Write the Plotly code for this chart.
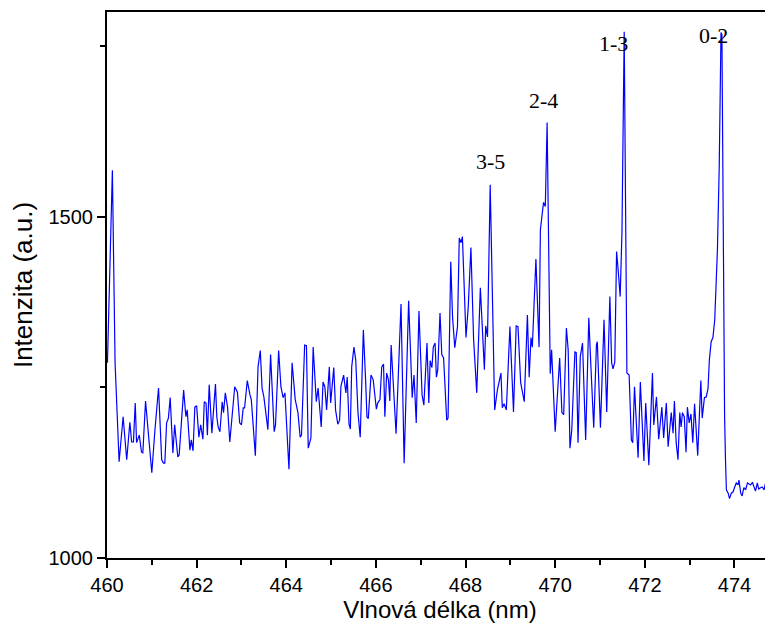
import plotly.graph_objects as go

wavelength = [
    460.01, 460.12, 460.18, 460.25, 460.27, 460.36, 460.44, 460.51, 460.55, 460.59,
    460.63, 460.66, 460.72, 460.77, 460.80, 460.86, 460.92, 461.00, 461.07, 461.15,
    461.22, 461.26, 461.29, 461.33, 461.37, 461.41, 461.47, 461.51, 461.58, 461.61,
    461.71, 461.76, 461.79, 461.85, 461.88, 461.92, 461.96, 462.00, 462.05, 462.09,
    462.14, 462.17, 462.21, 462.24, 462.28, 462.34, 462.42, 462.45,
    462.48, 462.52, 462.57, 462.60, 462.64, 462.69, 462.74, 462.85, 462.91, 462.96,
    463.00, 463.04, 463.07, 463.13, 463.19, 463.22, 463.31, 463.37, 463.42, 463.46,
    463.50, 463.59, 463.65, 463.73, 463.76, 463.83, 463.88, 463.93, 463.97, 464.06,
    464.13, 464.20, 464.26, 464.31, 464.34, 464.41, 464.45, 464.49, 464.55, 464.60,
    464.67, 464.71, 464.78, 464.82, 464.86, 464.90, 464.96, 464.99,
    465.06, 465.10, 465.15, 465.19, 465.22, 465.28, 465.33, 465.36, 465.40, 465.43,
    465.46, 465.51, 465.55, 465.60, 465.65, 465.72, 465.77, 465.80, 465.83, 465.89,
    465.94, 466.01, 466.04, 466.09, 466.13, 466.17, 466.20, 466.24, 466.28, 466.31,
    466.34, 466.45, 466.56, 466.63, 466.73, 466.79, 466.81, 466.85, 466.90, 466.96,
    467.03, 467.07, 467.14, 467.18, 467.21, 467.25, 467.28, 467.32, 467.35, 467.38,
    467.43, 467.47, 467.51,
    467.58, 467.61, 467.67, 467.71, 467.76, 467.82, 467.86, 467.90, 467.93, 468.01,
    468.06, 468.12, 468.18, 468.25, 468.33, 468.42, 468.45, 468.49, 468.55, 468.65,
    468.71, 468.79, 468.82, 468.86, 468.91, 468.99, 469.07, 469.13, 469.17, 469.23,
    469.31, 469.38, 469.42, 469.46, 469.49, 469.57, 469.64, 469.67, 469.74, 469.78,
    469.82, 469.89, 469.92, 470.00, 470.10,
    470.15, 470.19, 470.25, 470.29, 470.33, 470.37, 470.44, 470.47, 470.51, 470.56,
    470.61, 470.68, 470.75, 470.80, 470.86, 470.92, 470.94, 471.01, 471.09, 471.15,
    471.22, 471.26, 471.29, 471.33, 471.37, 471.41, 471.45, 471.49, 471.54, 471.60,
    471.65, 471.70, 471.73, 471.77, 471.85, 471.90, 471.98, 472.02, 472.09, 472.17,
    472.20, 472.26, 472.31, 472.38, 472.42, 472.48, 472.52,
    472.59, 472.63, 472.66, 472.70, 472.74, 472.78, 472.81, 472.84, 472.88, 472.92,
    472.95, 472.99, 473.03, 473.07, 473.11, 473.14, 473.18, 473.25, 473.28, 473.33,
    473.37, 473.41, 473.44, 473.48, 473.52, 473.56, 473.62, 473.66, 473.70, 473.72,
    473.76, 473.78, 473.80, 473.82, 473.86, 473.89, 473.93, 473.97, 474.00, 474.04,
    474.08, 474.10, 474.14, 474.17, 474.21, 474.25, 474.29, 474.32, 474.36, 474.40,
    474.43, 474.47, 474.51, 474.54, 474.58, 474.62, 474.66, 474.69, 474.72, 474.75,
    474.80, 474.84, 474.90,
]

intensity = [
    1286, 1568, 1286, 1148, 1141, 1207, 1144, 1199, 1170, 1170,
    1227, 1169, 1180, 1155, 1154, 1230, 1188, 1125, 1188, 1249,
    1144, 1139, 1139, 1198, 1205, 1235, 1154, 1195, 1148, 1151,
    1246, 1207, 1217, 1158, 1173, 1157, 1221, 1223, 1177, 1195,
    1174, 1229, 1227, 1180, 1254, 1183, 1255, 1207,
    1192, 1185, 1229, 1213, 1242, 1221, 1170, 1251, 1243, 1198,
    1195, 1220, 1220, 1260, 1239, 1232, 1150, 1280, 1304, 1249,
    1236, 1188, 1298, 1185, 1195, 1304, 1251, 1235, 1242, 1130,
    1286, 1232, 1213, 1177, 1180, 1312, 1311, 1161, 1176, 1309,
    1229, 1249, 1192, 1258, 1251, 1217, 1280, 1227,
    1279, 1217, 1196, 1202, 1252, 1268, 1242, 1265, 1196, 1189,
    1280, 1309, 1290, 1213, 1177, 1334, 1261, 1207, 1204, 1268,
    1261, 1218, 1227, 1232, 1280, 1284, 1207, 1271, 1261, 1230,
    1312, 1182, 1372, 1139, 1377, 1246, 1235, 1268, 1198, 1362,
    1239, 1224, 1315, 1227, 1289, 1279, 1309, 1315, 1265, 1276,
    1359, 1298, 1293,
    1202, 1205, 1434, 1353, 1308, 1339, 1469, 1462, 1471, 1323,
    1368, 1455, 1320, 1242, 1396, 1276, 1340, 1324, 1547, 1217,
    1246, 1271, 1220, 1226, 1217, 1339, 1214, 1340, 1339, 1257,
    1229, 1356, 1265, 1323, 1309, 1438, 1309, 1481, 1521, 1515,
    1638, 1270, 1305, 1185, 1293,
    1213, 1210, 1337, 1305, 1161, 1188, 1302, 1301, 1169, 1295,
    1315, 1173, 1352, 1276, 1191, 1312, 1317, 1191, 1349, 1214,
    1383, 1286, 1277, 1287, 1449, 1418, 1383, 1477, 1771, 1271,
    1268, 1173, 1169, 1251, 1147, 1258, 1142, 1227, 1136, 1271,
    1195, 1236, 1174, 1221, 1176, 1227, 1163,
    1213, 1183, 1230, 1169, 1144, 1213, 1192, 1213, 1207, 1155,
    1221, 1198, 1211, 1169, 1226, 1185, 1150, 1260, 1205, 1235,
    1236, 1248, 1290, 1317, 1323, 1349, 1452, 1573, 1770, 1767,
    1330, 1207, 1144, 1100, 1095, 1087, 1095, 1097, 1103, 1110,
    1107, 1114, 1095, 1091, 1103, 1100, 1110, 1109, 1107, 1111,
    1106, 1098, 1110, 1101, 1103, 1104, 1100, 1109, 1097, 1087,
    1095, 1104, 1100,
]

peak_labels = ["3-5", "2-4", "1-3", "0-2"]
label_x = [468.55, 469.75, 471.29, 473.53]
label_y = [1581, 1670, 1754, 1765]

x_ticks = [460, 462, 464, 466, 468, 470, 472, 474]
y_ticks = [1000, 1500]

fig = go.Figure()
fig.add_trace(go.Scatter(
    x=wavelength, y=intensity, mode="lines",
    line=dict(color="#0000FF", width=1.2),
    showlegend=False, hoverinfo="skip",
))

for t, lx, ly in zip(peak_labels, label_x, label_y):
    fig.add_annotation(
        x=lx, y=ly, text=t, showarrow=False,
        font=dict(family="Liberation Serif", size=22, color="black"),
        xanchor="center", yanchor="middle",
    )

axis_font = dict(family="Liberation Sans", size=20, color="black")

fig.update_layout(
    width=765, height=629,
    margin=dict(l=99, r=0, t=4, b=79, autoexpand=False),
    paper_bgcolor="white", plot_bgcolor="white",
    xaxis=dict(
        range=[460, 474.86], automargin=True,
        tickmode="array", tickvals=x_ticks,
        ticks="outside", ticklen=8, tickwidth=1.5, tickcolor="black",
        minor=dict(dtick=1, tick0=460, ticks="outside", ticklen=5, tickwidth=1.5, tickcolor="black"),
        showline=True, linecolor="black", linewidth=2, mirror=True,
        showgrid=False, zeroline=False,
        tickfont=axis_font,
        title=dict(text="Vlnová délka (nm)", font=dict(family="Liberation Sans", size=24, color="black"), standoff=0),
    ),
    yaxis=dict(
        range=[1000, 1800], automargin=True,
        tickmode="array", tickvals=y_ticks,
        ticks="outside", ticklen=8, tickwidth=1.5, tickcolor="black",
        minor=dict(dtick=250, tick0=1000, ticks="outside", ticklen=5, tickwidth=1.5, tickcolor="black"),
        showline=True, linecolor="black", linewidth=2, mirror=False,
        showgrid=False, zeroline=False,
        tickfont=axis_font,
        title=dict(text="Intenzita (a.u.)", font=dict(family="Liberation Sans", size=26, color="black"), standoff=11),
    ),
)

fig.write_html("out.html")
